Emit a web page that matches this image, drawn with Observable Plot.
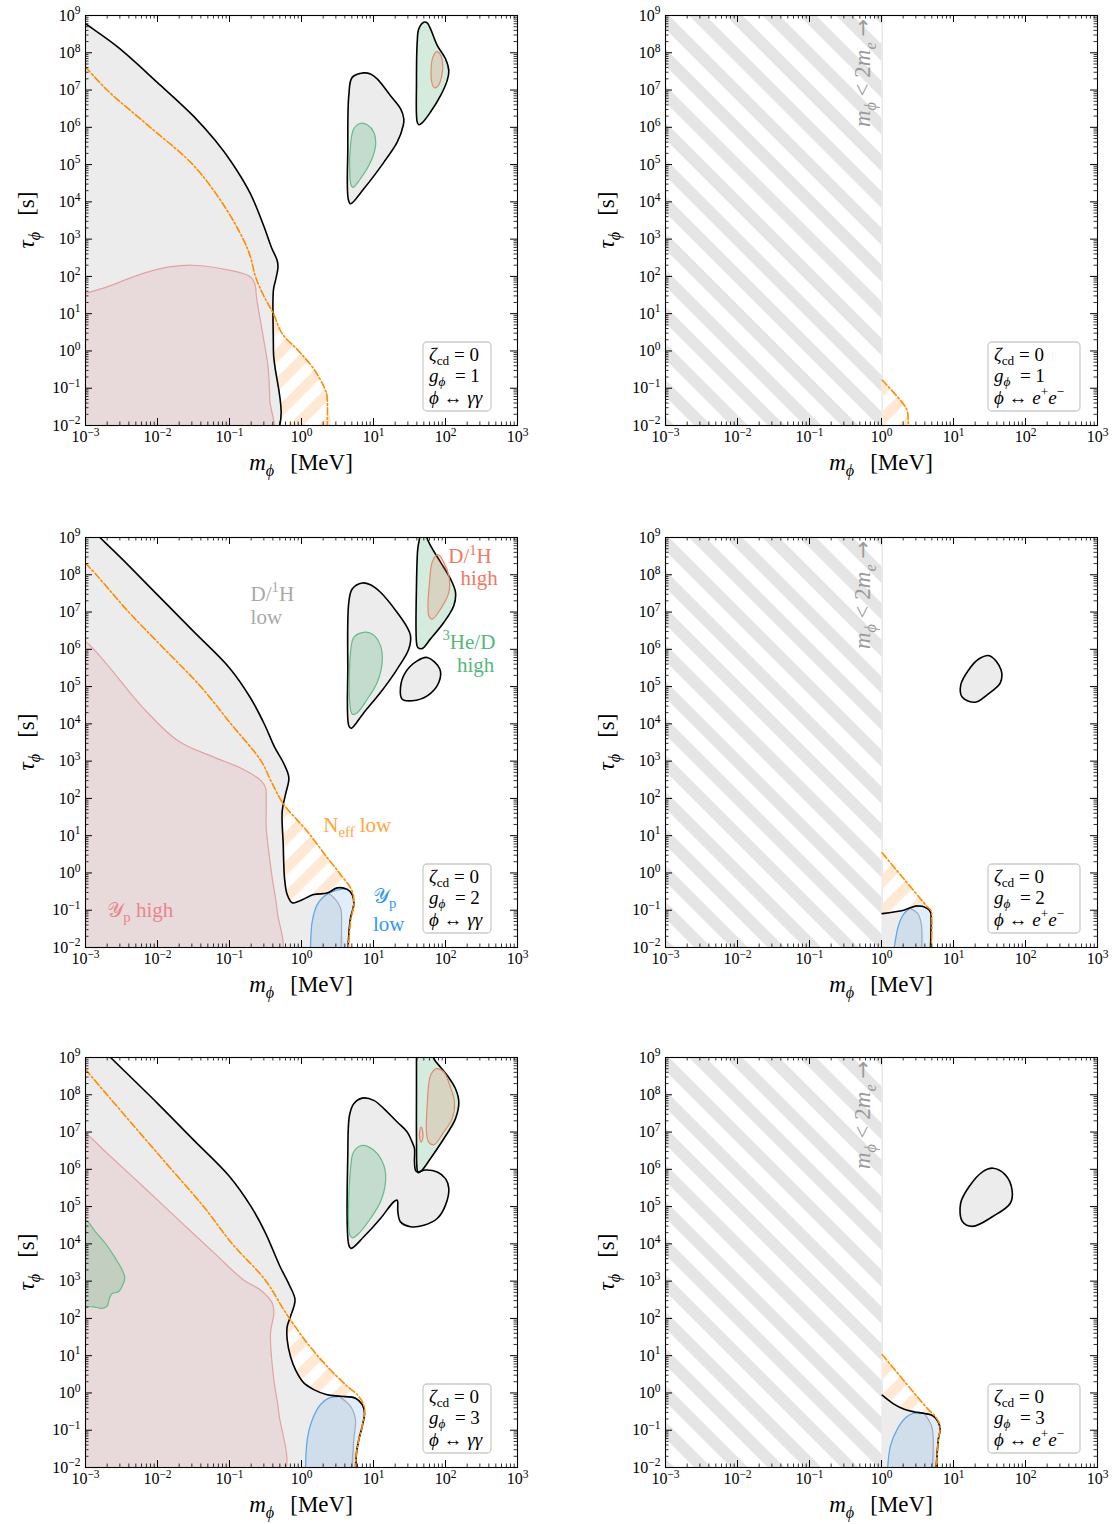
<!DOCTYPE html>
<html><head><meta charset="utf-8">
<script src="https://cdn.jsdelivr.net/npm/d3@7"></script>
<script src="https://cdn.jsdelivr.net/npm/@observablehq/plot@0.6"></script>
<style>
body{margin:0;background:#fff;}
#wrap{position:relative;width:1115px;height:1524px;overflow:hidden;}
#wrap svg{position:absolute;overflow:visible;}
</style></head><body><div id="wrap"></div>
<script>
// ---------- axis values ----------
const xDecades = [-3, -2, -1, 0, 1, 2, 3];
const yDecades = [-2, -1, 0, 1, 2, 3, 4, 5, 6, 7, 8, 9];
const electronMass = 0.511; // MeV
// all contours: [log10(m_phi / MeV), log10(tau_phi / s)]

// ---------- panel A : g=1, gamma gamma ----------
const A_gray = [[-3.3,9.2],[-3,8.78],[-2.55,8.15],[-2.0,7.2],[-1.5,6.3],[-1.2,5.65],[-0.96,5.03],[-0.71,4.22],[-0.52,3.33],[-0.42,2.79],[-0.34,2.44],[-0.326,2.26],[-0.36,1.9],[-0.39,1.63],[-0.39,0],[-0.39,-2.3],[-3.3,-2.3]];
const A_pink = [[-3.3,1.3],[-3,1.54],[-2.7,1.72],[-2.2,2.08],[-1.81,2.26],[-1.51,2.30],[-1.01,2.17],[-0.71,1.99],[-0.65,1.81],[-0.62,1.37],[-0.54,0.47],[-0.465,-0.42],[-0.44,-1.31],[-0.43,-2.3],[-3.3,-2.3]];
const A_orange = [[-3,7.62],[-2.7,7.0],[-2.1,6.0],[-1.51,5.0],[-1.11,4.0],[-0.81,3.0],[-0.71,2.53],[-0.64,2.0],[-0.52,1.46],[-0.39,1.0],[-0.27,0.47],[-0.04,0.0],[0.18,-0.51],[0.33,-1.04],[0.355,-1.22],[0.355,-2.3]];
const A_hatch = [[-0.39,1.0],[-0.27,0.47],[-0.04,0.0],[0.18,-0.51],[0.33,-1.04],[0.355,-1.22],[0.355,-2.3],[-0.39,-2.3]];
const A_grayIsland = [[0.865,7.46],[0.704,7.34],[0.657,6.85],[0.643,5.42],[0.649,4.08],[0.681,3.95],[0.865,4.35],[1.143,5.06],[1.329,5.60],[1.413,6.05],[1.421,6.23],[1.375,6.50],[1.236,6.85],[1.051,7.30],[0.958,7.43]];
const A_greenIn = [[0.819,6.11],[0.726,5.96],[0.681,5.51],[0.671,4.71],[0.690,4.44],[0.718,4.39],[0.819,4.62],[0.958,5.06],[1.028,5.51],[1.004,5.87],[0.913,6.07]];
const A_greenIsland = [[1.699,8.82],[1.629,8.64],[1.607,8.28],[1.597,7.21],[1.607,6.14],[1.629,6.07],[1.676,6.12],[1.792,6.41],[1.931,6.85],[2.024,7.26],[2.046,7.52],[2.0,7.84],[1.885,8.20],[1.792,8.64],[1.746,8.80]];
const A_redIn = [[1.875,8.03],[1.93,7.95],[1.96,7.7],[1.95,7.4],[1.9,7.12],[1.847,7.06],[1.81,7.2],[1.80,7.55],[1.82,7.85]];

// ---------- panel B : g=1, e+e- ----------
const B_orange = [[0.009,-0.78],[0.314,-1.45],[0.36,-1.63],[0.37,-2.3]];
const B_hatch = [[0.009,-0.78],[0.314,-1.45],[0.36,-1.63],[0.37,-2.3],[0.009,-2.3]];

// ---------- panel C : g=2, gamma gamma ----------
const C_gray = [[-3.3,9.6],[-2.96,9.3],[-2.80,9.0],[-2.5,8.44],[-2.0,7.46],[-1.5,6.48],[-1.0,5.50],[-0.71,4.70],[-0.515,3.99],[-0.37,3.36],[-0.25,2.95],[-0.176,2.56],[-0.222,2.11],[-0.268,1.66],[-0.254,0.77],[-0.236,-0.13],[-0.199,-0.58],[-0.13,-0.80],[-0.037,-0.76],[0.171,-0.58],[0.356,-0.54],[0.45,-0.66],[0.542,-0.94],[0.556,-1.48],[0.542,-2.3],[-3.3,-2.3]];
const C_black = [[-2.96,9.3],[-2.80,9.0],[-2.5,8.44],[-2.0,7.46],[-1.5,6.48],[-1.0,5.50],[-0.71,4.70],[-0.515,3.99],[-0.37,3.36],[-0.25,2.95],[-0.176,2.56],[-0.222,2.11],[-0.268,1.66],[-0.254,0.77],[-0.236,-0.13],[-0.199,-0.58],[-0.13,-0.80],[-0.037,-0.76],[0.171,-0.58],[0.356,-0.54],[0.496,-0.40],[0.635,-0.44],[0.704,-0.58],[0.726,-0.85],[0.681,-1.21],[0.657,-1.65],[0.643,-2.3]];
const C_grayLine = [[0.356,-0.54],[0.45,-0.66],[0.542,-0.94],[0.556,-1.48],[0.542,-2.3]];
const C_blue = [[0.125,-2.3],[0.125,-2],[0.149,-1.30],[0.218,-0.85],[0.31,-0.63],[0.403,-0.52],[0.542,-0.44],[0.635,-0.44],[0.704,-0.58],[0.726,-0.85],[0.681,-1.21],[0.657,-1.65],[0.643,-2.3]];
const C_pink = [[-3.3,6.5],[-3,6.21],[-2.7,5.59],[-2.2,4.43],[-1.71,3.54],[-1.21,3.10],[-0.83,2.80],[-0.56,2.47],[-0.5,2.29],[-0.49,1.85],[-0.49,1.21],[-0.45,0.5],[-0.407,-0.13],[-0.337,-1.03],[-0.315,-2.3],[-3.3,-2.3]];
const C_orange = [[-3,8.31],[-2.85,8.0],[-2.40,7.0],[-1.90,6.0],[-1.40,5.0],[-0.98,4.0],[-0.56,3.0],[-0.42,2.45],[-0.25,1.85],[0.079,1.12],[0.357,0.41],[0.542,-0.04],[0.704,-0.49],[0.726,-0.85],[0.681,-1.30],[0.643,-2.3]];
const C_hatch = [[-0.25,1.85],[0.079,1.12],[0.357,0.41],[0.542,-0.04],[0.704,-0.49],[0.635,-0.44],[0.496,-0.40],[0.356,-0.54],[0.171,-0.58],[-0.037,-0.76],[-0.13,-0.80],[-0.199,-0.58],[-0.236,-0.13],[-0.254,0.77],[-0.268,1.66]];
const C_grayIsland = [[0.843,7.78],[0.704,7.62],[0.657,7.26],[0.643,5.47],[0.657,3.95],[0.690,3.88],[0.865,4.30],[1.097,4.84],[1.329,5.47],[1.49,6.01],[1.514,6.37],[1.468,6.59],[1.329,6.99],[1.097,7.53],[0.958,7.73]];
const C_greenIn = [[0.843,6.45],[0.726,6.32],[0.681,5.92],[0.671,4.57],[0.704,4.26],[0.774,4.30],[0.913,4.66],[1.051,5.11],[1.12,5.65],[1.097,6.10],[0.982,6.41]];
const C_greenIsland = [[1.64,9.3],[1.64,9.0],[1.615,8.70],[1.597,7.71],[1.597,6.19],[1.615,6.05],[1.676,6.02],[1.792,6.28],[1.976,6.72],[2.115,7.17],[2.139,7.53],[2.069,7.89],[1.931,8.34],[1.792,8.78],[1.72,9.1],[1.70,9.3]];
const C_redIn = [[1.875,8.53],[1.815,8.34],[1.782,7.89],[1.768,6.90],[1.815,6.81],[1.931,7.08],[2.046,7.53],[2.046,7.98],[1.976,8.34],[1.907,8.53]];
const C_oval = [[1.746,5.78],[1.921,5.47],[1.907,5.11],[1.746,4.75],[1.537,4.62],[1.399,4.66],[1.375,4.98],[1.444,5.38],[1.607,5.69]];

// ---------- panel D : g=2, e+e- ----------
const D_gray = [[0.009,-1.09],[0.309,-1.0],[0.40,-0.95],[0.50,-1.08],[0.555,-1.4],[0.546,-2.3],[0.009,-2.3]];
const D_black = [[0.009,-1.09],[0.309,-1.0],[0.475,-0.89],[0.594,-0.91],[0.68,-1.05],[0.69,-1.27],[0.685,-1.72],[0.675,-2.3]];
const D_grayLine = [[0.40,-0.95],[0.50,-1.08],[0.555,-1.4],[0.546,-2.3]];
const D_blue = [[0.16,-2.3],[0.23,-1.45],[0.31,-1.1],[0.40,-0.95],[0.475,-0.89],[0.594,-0.91],[0.68,-1.05],[0.69,-1.27],[0.685,-1.72],[0.675,-2.3]];
const D_orange = [[0.009,0.54],[0.32,-0.18],[0.638,-0.91],[0.685,-1.0],[0.70,-1.27],[0.685,-2.3]];
const D_hatch = [[0.009,0.54],[0.32,-0.18],[0.638,-0.91],[0.594,-0.91],[0.475,-0.89],[0.309,-1.0],[0.009,-1.09]];
const D_oval = [[1.50,5.83],[1.66,5.45],[1.65,5.1],[1.48,4.8],[1.30,4.58],[1.12,4.72],[1.10,5.04],[1.20,5.42],[1.35,5.74]];

// ---------- panel E : g=3, gamma gamma ----------
const E_gray = [[-3.3,9.6],[-2.81,9.3],[-2.652,9.0],[-2.0,7.77],[-1.5,6.79],[-1.0,5.81],[-0.7,5.0],[-0.5,4.29],[-0.3,3.40],[-0.17,2.9],[-0.09,2.5],[-0.153,2.05],[-0.199,1.78],[-0.199,1.43],[-0.153,0.98],[-0.083,0.62],[0.032,0.27],[0.171,0.09],[0.357,-0.05],[0.542,-0.09],[0.681,-0.36],[0.75,-0.72],[0.726,-1.25],[0.69,-2.3],[-3.3,-2.3]];
const E_black = [[-2.81,9.3],[-2.652,9.0],[-2.0,7.77],[-1.5,6.79],[-1.0,5.81],[-0.7,5.0],[-0.5,4.29],[-0.3,3.40],[-0.17,2.9],[-0.09,2.5],[-0.153,2.05],[-0.199,1.78],[-0.199,1.43],[-0.153,0.98],[-0.083,0.62],[0.032,0.27],[0.171,0.09],[0.357,-0.05],[0.542,-0.09],[0.75,-0.14],[0.843,-0.31],[0.875,-0.54],[0.843,-0.90],[0.796,-1.25],[0.764,-1.61],[0.75,-2.3]];
const E_grayLine = [[0.542,-0.12],[0.681,-0.36],[0.75,-0.72],[0.726,-1.25],[0.69,-2.3]];
const E_blue = [[0.056,-2.3],[0.079,-1.25],[0.149,-0.72],[0.264,-0.31],[0.379,-0.14],[0.542,-0.09],[0.75,-0.14],[0.843,-0.31],[0.875,-0.54],[0.843,-0.90],[0.796,-1.25],[0.764,-1.61],[0.75,-2.3]];
const E_pink = [[-3.3,7.3],[-3,6.97],[-2.7,6.43],[-2.2,5.54],[-1.71,4.65],[-1.21,3.75],[-0.81,3.04],[-0.569,2.76],[-0.407,2.41],[-0.384,2.14],[-0.431,1.60],[-0.384,0.35],[-0.315,-0.54],[-0.283,-2.3],[-3.3,-2.3]];
const E_greenLeft = [[-3.3,4.64],[-3,4.64],[-2.861,4.32],[-2.722,4.01],[-2.583,3.61],[-2.49,3.30],[-2.454,3.08],[-2.482,2.90],[-2.538,2.72],[-2.629,2.67],[-2.667,2.54],[-2.699,2.33],[-2.768,2.27],[-2.861,2.30],[-2.954,2.32],[-3.3,2.32]];
const E_orange = [[-3,8.68],[-2.70,8.0],[-2.255,7.0],[-1.807,6.0],[-1.36,5.0],[-0.962,4.0],[-0.5,3.02],[-0.246,2.23],[-0.153,1.96],[0.079,1.34],[0.357,0.71],[0.635,0.18],[0.796,-0.09],[0.875,-0.40],[0.843,-0.90],[0.796,-1.25],[0.764,-1.61],[0.736,-2.3]];
const E_hatch = [[-0.153,2.0],[0.079,1.34],[0.357,0.71],[0.635,0.18],[0.796,-0.09],[0.75,-0.14],[0.542,-0.09],[0.357,-0.05],[0.171,0.09],[0.032,0.27],[-0.083,0.62],[-0.153,0.98],[-0.199,1.43],[-0.199,1.78]];
const E_grayIsland = [[0.843,7.91],[0.726,7.76],[0.667,7.45],[0.643,6.38],[0.657,3.97],[0.69,3.88],[0.865,4.19],[1.097,4.68],[1.282,5.13],[1.329,5.17],[1.338,4.86],[1.375,4.59],[1.514,4.46],[1.699,4.50],[1.885,4.68],[2.0,5.04],[2.046,5.49],[2.0,5.75],[1.885,5.93],[1.722,5.98],[1.607,5.93],[1.583,5.98],[1.569,6.20],[1.569,6.56],[1.537,6.73],[1.468,7.0],[1.329,7.27],[1.143,7.63],[1.004,7.85]];
const E_greenIn = [[0.843,6.64],[0.726,6.47],[0.681,6.02],[0.671,4.24],[0.704,4.16],[0.796,4.28],[0.958,4.68],[1.097,5.13],[1.167,5.66],[1.143,6.11],[1.004,6.51]];
const E_greenIsland = [[1.597,9.3],[1.597,9.0],[1.597,8.16],[1.597,6.82],[1.607,5.98],[1.621,5.91],[1.676,5.98],[1.792,6.29],[1.976,6.82],[2.139,7.36],[2.185,7.80],[2.139,8.16],[2.024,8.52],[1.931,8.74],[1.838,8.97],[1.80,9.3]];
const E_redIn = [[1.875,8.70],[1.792,8.52],[1.746,7.72],[1.736,7.0],[1.768,6.72],[1.838,6.66],[1.976,7.0],[2.093,7.36],[2.125,7.80],[2.069,8.20],[1.976,8.61]];
const E_redSmall = [[1.662,7.13],[1.685,7.0],[1.685,6.85],[1.662,6.73],[1.64,6.85],[1.64,7.0]];

// ---------- panel F : g=3, e+e- ----------
const F_gray = [[0.009,-0.06],[0.173,-0.30],[0.316,-0.44],[0.458,-0.51],[0.6,-0.57],[0.695,-0.88],[0.719,-1.24],[0.695,-2.3],[0.009,-2.3]];
const F_black = [[0.009,-0.06],[0.173,-0.30],[0.316,-0.44],[0.458,-0.51],[0.6,-0.55],[0.72,-0.62],[0.814,-0.93],[0.79,-1.24],[0.75,-2.3]];
const F_grayLine = [[0.6,-0.57],[0.695,-0.88],[0.719,-1.24],[0.695,-2.3]];
const F_blue = [[0.076,-2.3],[0.124,-1.42],[0.219,-0.97],[0.338,-0.66],[0.433,-0.55],[0.6,-0.55],[0.72,-0.62],[0.814,-0.93],[0.79,-1.24],[0.75,-2.3]];
const F_orange = [[0.009,1.03],[0.41,0.10],[0.648,-0.44],[0.743,-0.62],[0.814,-0.88],[0.79,-1.24],[0.75,-2.3]];
const F_hatch = [[0.009,1.03],[0.41,0.10],[0.648,-0.44],[0.72,-0.62],[0.6,-0.55],[0.458,-0.51],[0.316,-0.44],[0.173,-0.30],[0.009,-0.06]];
const F_oval = [[1.551,6.03],[1.72,5.85],[1.813,5.45],[1.789,5.09],[1.551,4.74],[1.265,4.47],[1.123,4.60],[1.099,5.09],[1.218,5.54],[1.408,5.94]];

// ---------- panel parameters ----------
const couplings = [1, 1, 2, 2, 3, 3];
const decays = ["gg", "ee", "gg", "ee", "gg", "ee"];
const zetaCD = 0;

// ---------- styles ----------
const FONT = "'Liberation Serif','DejaVu Serif',serif";
const KIND = {
  gray:  {fill: "#ececec", fo: 1, stroke: "none"},
  pink:  {fill: "#c84646", fo: 0.11, stroke: "#e4a2a2"},
  blue:  {fill: "#3c8ce6", fo: 0.16, stroke: "#5ca5e6"},
  green: {fill: "#28a05a", fo: 0.2, stroke: "#66bb88"},
  red:   {fill: "#e67850", fo: 0.2, stroke: "#e48a6e"}
};
const P = arr => arr.map(([a, b]) => ({m: 10 ** a, t: 10 ** b}));

const panels = [
  {hatch: [A_hatch],
   fills: [{d: A_gray, k: "gray", black: true}, {d: A_pink, k: "pink"},
           {d: A_grayIsland, k: "gray", black: true, closed: true}, {d: A_greenIn, k: "green", closed: true},
           {d: A_greenIsland, k: "green", black: true, closed: true}, {d: A_redIn, k: "red", closed: true}],
   lines: [{d: A_orange, k: "orange"}]},
  {hatch: [B_hatch], fills: [], lines: [{d: B_orange, k: "orange"}]},
  {hatch: [C_hatch],
   fills: [{d: C_gray, k: "gray"}, {d: C_pink, k: "pink"}, {d: C_blue, k: "blue"},
           {d: C_grayIsland, k: "gray", black: true, closed: true}, {d: C_greenIn, k: "green", closed: true},
           {d: C_greenIsland, k: "green", black: true}, {d: C_redIn, k: "red", closed: true},
           {d: C_oval, k: "gray", black: true, closed: true}],
   lines: [{d: C_grayLine, k: "grayline"}, {d: C_black, k: "black"}, {d: C_orange, k: "orange"}]},
  {hatch: [D_hatch],
   fills: [{d: D_gray, k: "gray"}, {d: D_blue, k: "blue"}, {d: D_oval, k: "gray", black: true, closed: true}],
   lines: [{d: D_grayLine, k: "grayline"}, {d: D_black, k: "black"}, {d: D_orange, k: "orange"}]},
  {hatch: [E_hatch],
   fills: [{d: E_gray, k: "gray"}, {d: E_pink, k: "pink"}, {d: E_greenLeft, k: "green"}, {d: E_blue, k: "blue"},
           {d: E_grayIsland, k: "gray", black: true, closed: true}, {d: E_greenIn, k: "green", closed: true},
           {d: E_greenIsland, k: "green", black: true}, {d: E_redIn, k: "red", closed: true},
           {d: E_redSmall, k: "red", closed: true}],
   lines: [{d: E_grayLine, k: "grayline"}, {d: E_black, k: "black"}, {d: E_orange, k: "orange"}]},
  {hatch: [F_hatch],
   fills: [{d: F_gray, k: "gray"}, {d: F_blue, k: "blue"}, {d: F_oval, k: "gray", black: true, closed: true}],
   lines: [{d: F_grayLine, k: "grayline"}, {d: F_black, k: "black"}, {d: F_orange, k: "orange"}]}
];

// labels on panel C
const labelsC = [
  {x: -0.70, y: 7.29, c: "#a9a9a9", parts: [{t: "D/"}, {t: "1", sup: true}, {t: "H"}]},
  {x: -0.70, y: 6.66, c: "#a9a9a9", parts: [{t: "low"}]},
  {x: 2.045, y: 8.29, c: "#f4785f", parts: [{t: "D/"}, {t: "1", sup: true}, {t: "H"}]},
  {x: 2.215, y: 7.71, c: "#f4785f", parts: [{t: "high"}]},
  {x: 1.965, y: 5.99, c: "#55b87c", parts: [{t: "3", sup: true}, {t: "He/D"}]},
  {x: 2.165, y: 5.39, c: "#55b87c", parts: [{t: "high"}]},
  {x: 0.31, y: 1.08, c: "#ffa640", parts: [{t: "N"}, {t: "eff", sub: true}, {t: " low"}]},
  {x: -2.69, y: -1.2, c: "#e8868c", parts: [{t: "𝒴"}, {t: "p", sub: true}, {t: " high"}]},
  {x: 1.0, y: -0.82, c: "#3598f0", parts: [{t: "𝒴"}, {t: "p", sub: true}]},
  {x: 1.0, y: -1.57, c: "#3598f0", parts: [{t: "low"}]}
];

// ---------- helpers ----------
const NS = "http://www.w3.org/2000/svg";
const SUP = {"-": "⁻", "0": "⁰", "1": "¹", "2": "²", "3": "³", "4": "⁴", "5": "⁵", "6": "⁶", "7": "⁷", "8": "⁸", "9": "⁹"};
const INV = Object.fromEntries(Object.entries(SUP).map(([k, v]) => [v, k]));
const fmt = v => "10" + String(Math.round(Math.log10(v))).split("").map(c => SUP[c]).join("");
const xMajor = xDecades.map(e => 10 ** e);
const yMajor = yDecades.map(e => 10 ** e);
const xMinor = xDecades.slice(0, -1).flatMap(e => d3.range(2, 10).map(k => k * 10 ** e));
const yMinor = yDecades.slice(0, -1).flatMap(e => d3.range(2, 10).map(k => k * 10 ** e));

function rich(svg, x, y, parts, {size = 20, fill = "black", anchor = "start", rotate = 0, subShift = 0.26} = {}) {
  const t = document.createElementNS(NS, "text");
  t.setAttribute("transform", `translate(${x},${y})` + (rotate ? ` rotate(${rotate})` : ""));
  t.setAttribute("font-size", size);
  t.setAttribute("fill", fill);
  t.setAttribute("text-anchor", anchor);
  t.setAttribute("font-family", FONT);
  t.setAttribute("style", "white-space:pre");
  let shift = 0;
  for (const p of parts) {
    const s = document.createElementNS(NS, "tspan");
    s.textContent = p.t;
    const target = p.sub ? size * subShift : p.sup ? -size * 0.42 : 0;
    s.setAttribute("dy", target - shift);
    shift = target;
    if (p.sub || p.sup) s.setAttribute("font-size", size * 0.7);
    if (p.s) s.setAttribute("font-size", p.s);
    if (p.f) s.setAttribute("font-family", p.f);
    if (p.i) s.setAttribute("font-style", "italic");
    t.appendChild(s);
  }
  svg.appendChild(t);
  return t;
}

const H = 410, WP = 432, TOP = 15;
const rowTops = [0, 522, 1042];
const wrap = document.getElementById("wrap");

panels.forEach((cfg, idx) => {
  const col = idx % 2, row = Math.floor(idx / 2);
  const W = col === 0 ? 557 : 535;
  const marks = [];
  if (col === 1) {
    marks.push(Plot.rect([{x1: 1e-3, x2: 2 * electronMass, y1: 1e-2, y2: 1e9}],
      {x1: "x1", x2: "x2", y1: "y1", y2: "y2", fill: `url(#gh${idx})`}));
    marks.push(Plot.ruleX([2 * electronMass], {stroke: "#e8e8e8", strokeWidth: 1.5}));
  }
  for (const h of cfg.hatch)
    marks.push(Plot.line(P(h), {x: "m", y: "t", fill: `url(#oh${idx})`, stroke: "none", curve: "catmull-rom", clip: true}));
  for (const f of cfg.fills) {
    const s = KIND[f.k];
    marks.push(Plot.line(P(f.d), {
      x: "m", y: "t", fill: s.fill, fillOpacity: s.fo,
      stroke: f.black ? "black" : s.stroke, strokeWidth: f.black ? 1.6 : 1.2,
      curve: f.closed ? "catmull-rom-closed" : "catmull-rom", clip: true
    }));
  }
  for (const l of cfg.lines) {
    if (l.k === "grayline") marks.push(Plot.line(P(l.d), {x: "m", y: "t", stroke: "#a5abb3", strokeWidth: 1.2, curve: "catmull-rom", clip: true}));
    if (l.k === "black") marks.push(Plot.line(P(l.d), {x: "m", y: "t", stroke: "black", strokeWidth: 1.6, curve: "catmull-rom", clip: true}));
    if (l.k === "orange") marks.push(Plot.line(P(l.d), {x: "m", y: "t", stroke: "#ff8c00", strokeWidth: 1.6, strokeDasharray: "7,2.5,1.8,2.5", curve: "catmull-rom", clip: true}));
  }
  // inward ticks on all four sides
  marks.push(
    Plot.tickX(xMajor, {x: d => d, insetTop: H - 7, stroke: "black"}),
    Plot.tickX(xMajor, {x: d => d, insetBottom: H - 7, stroke: "black"}),
    Plot.tickX(xMinor, {x: d => d, insetTop: H - 3.5, stroke: "black", strokeWidth: 0.8}),
    Plot.tickX(xMinor, {x: d => d, insetBottom: H - 3.5, stroke: "black", strokeWidth: 0.8}),
    Plot.tickY(yMajor, {y: d => d, insetRight: WP - 7, stroke: "black"}),
    Plot.tickY(yMajor, {y: d => d, insetLeft: WP - 7, stroke: "black"}),
    Plot.tickY(yMinor, {y: d => d, insetRight: WP - 3.5, stroke: "black", strokeWidth: 0.8}),
    Plot.tickY(yMinor, {y: d => d, insetLeft: WP - 3.5, stroke: "black", strokeWidth: 0.8}),
    Plot.axisX({ticks: xMajor, tickSize: 0, tickPadding: 5, tickFormat: fmt, label: null}),
    Plot.axisY({ticks: yMajor, tickSize: 0, tickPadding: 5, tickFormat: fmt, label: null}),
    Plot.frame({stroke: "black", strokeWidth: 1.1})
  );
  const svg = Plot.plot({
    width: W, height: 500,
    marginTop: TOP, marginLeft: 85, marginRight: W - 85 - WP, marginBottom: 500 - TOP - H,
    x: {type: "log", domain: [1e-3, 1e3]},
    y: {type: "log", domain: [1e-2, 1e9]},
    style: {fontFamily: FONT, fontSize: "16px", background: "transparent", color: "black"},
    marks
  });
  svg.style.left = (col === 0 ? 0 : 580) + "px";
  svg.style.top = rowTops[row] + "px";
  const defs = document.createElementNS(NS, "defs");
  defs.innerHTML =
    `<pattern id="oh${idx}" patternUnits="userSpaceOnUse" width="21" height="21" patternTransform="rotate(-45)"><rect width="21" height="10.5" fill="#ffe9d4"/></pattern>` +
    `<pattern id="gh${idx}" patternUnits="userSpaceOnUse" width="26" height="26" patternTransform="rotate(45)"><rect width="26" height="12" fill="#e5e5e5"/></pattern>`;
  svg.insertBefore(defs, svg.firstChild);
  wrap.appendChild(svg);

  // render tick-label exponents as real superscripts
  svg.querySelectorAll('[aria-label$="tick label"] text').forEach(t => {
    const s = t.textContent;
    if (!s.startsWith("10")) return;
    const exp = s.slice(2).split("").map(c => INV[c] ?? c).join("").replace("-", "−");
    t.textContent = "";
    const a = document.createElementNS(NS, "tspan"); a.textContent = "10"; t.appendChild(a);
    const b = document.createElementNS(NS, "tspan"); b.textContent = exp;
    b.setAttribute("font-size", 11.5); b.setAttribute("dy", "-0.55em"); t.appendChild(b);
  });

  const xs = svg.scale("x"), ys = svg.scale("y");
  const fx = v => xs.apply ? xs.apply(10 ** v) : d3.scaleLog(xs.domain, xs.range)(10 ** v);
  const fy = v => ys.apply ? ys.apply(10 ** v) : d3.scaleLog(ys.domain, ys.range)(10 ** v);

  // axis titles
  rich(svg, 85 + WP / 2, TOP + H + 45, [{t: "m", i: true}, {t: "ϕ", sub: true, i: true}, {t: "\u2002\u2009[MeV]"}], {size: 23, anchor: "middle"});
  rich(svg, 34, TOP + H / 2, [{t: "τ", i: true}, {t: "ϕ", sub: true, i: true}, {t: "\u2002\u2009[s]"}], {size: 23, anchor: "middle", rotate: -90});

  // kinematic limit label
  if (col === 1) {
    rich(svg, fx(-0.15), TOP + 4, [{t: "m", i: true}, {t: "ϕ", sub: true, i: true}, {t: " < 2"}, {t: "m", i: true}, {t: "e", sub: true, i: true}, {t: " "}, {t: "\u2192", s: 21, f: "'DejaVu Sans'"}],
      {size: 23, fill: "#9a9a9a", anchor: "end", rotate: -90});
  }

  // parameter box
  const g = couplings[idx], dec = decays[idx];
  const bw = dec === "gg" ? 68 : 92, bh = 69;
  const right = 85 + WP - (dec === "gg" ? 26 : 17), bottom = TOP + H - 14;
  const rect = document.createElementNS(NS, "rect");
  rect.setAttribute("x", right - bw); rect.setAttribute("y", bottom - bh);
  rect.setAttribute("width", bw); rect.setAttribute("height", bh);
  rect.setAttribute("rx", 4); rect.setAttribute("fill", "white"); rect.setAttribute("fill-opacity", 0.85);
  rect.setAttribute("stroke", "#cccccc"); rect.setAttribute("stroke-width", 1.3);
  svg.appendChild(rect);
  const lx = right - bw + 6, ly0 = bottom - bh;
  rich(svg, lx, ly0 + 19, [{t: "ζ", i: true}, {t: "cd", sub: true}, {t: " = " + zetaCD}], {size: 19, subShift: 0.2});
  rich(svg, lx, ly0 + 40, [{t: "g", i: true}, {t: "ϕ", sub: true, i: true}, {t: "\u2002= " + g}], {size: 19, subShift: 0.2});
  const l3 = dec === "gg"
    ? [{t: "ϕ", i: true}, {t: " ↔ "}, {t: "γγ", i: true}]
    : [{t: "ϕ", i: true}, {t: " ↔ "}, {t: "e", i: true}, {t: "+", sup: true}, {t: "e", i: true}, {t: "−", sup: true}];
  rich(svg, lx, ly0 + 62, l3, {size: 19});

  if (idx === 2) {
    for (const L of labelsC) rich(svg, fx(L.x), fy(L.y), L.parts, {size: 21, fill: L.c, subShift: 0.22});
  }
});
</script></body></html>
